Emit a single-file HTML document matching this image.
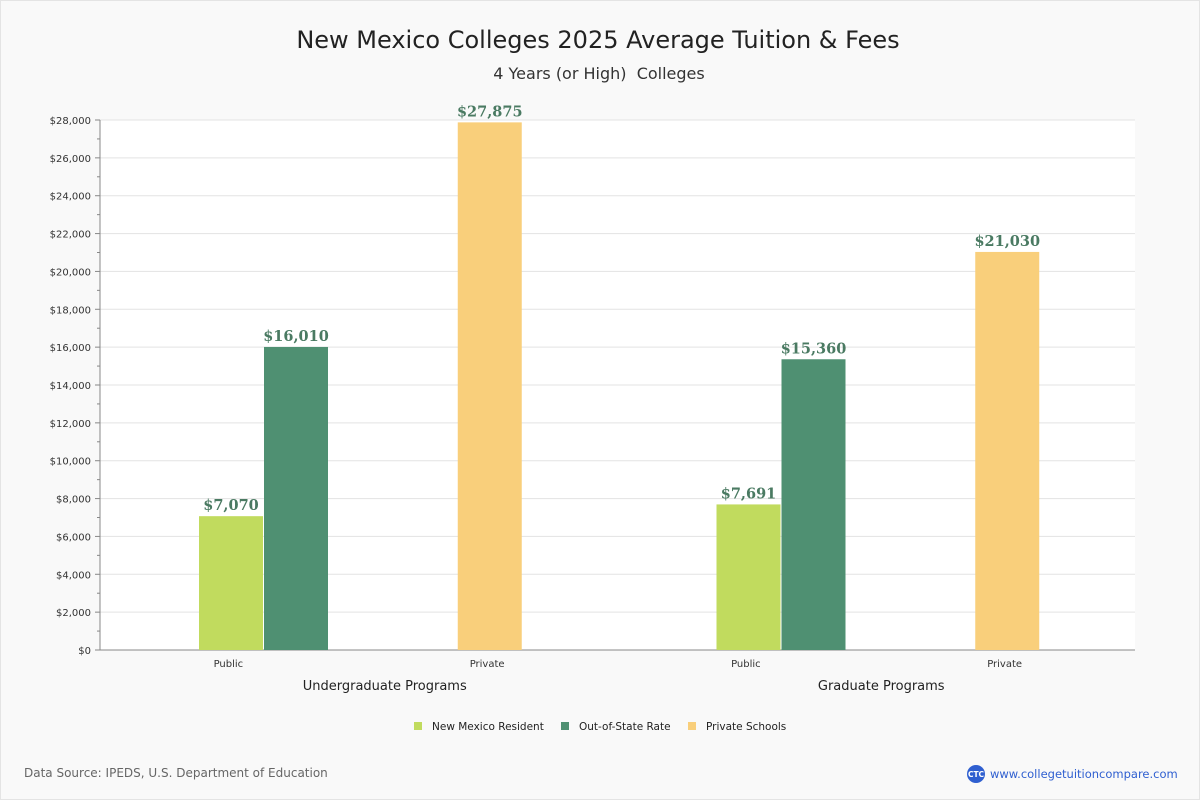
<!DOCTYPE html>
<html><head><meta charset="utf-8"><style>
html,body{margin:0;padding:0;background:#f9f9f9;}
body{width:1200px;height:800px;overflow:hidden;font-family:"DejaVu Sans","Liberation Sans",sans-serif;}
</style></head><body>
<svg id="chart" width="1200" height="800" xmlns="http://www.w3.org/2000/svg" style="display:block">
<rect x="0.5" y="0.5" width="1199" height="799" fill="#f9f9f9" stroke="#e4e4e4"/>
<text x="598" y="48" text-anchor="middle" font-size="24" fill="#222">New Mexico Colleges 2025 Average Tuition &amp; Fees</text>
<text x="599" y="79" text-anchor="middle" font-size="16" fill="#333" style="white-space:pre">4 Years (or High)&#160; Colleges</text>
<rect x="100" y="120" width="1035" height="530" fill="#fff"/>
<g id="grid"></g><g id="bars"></g><g id="labels"></g>
<g font-size="10.5" fill="#222">
<rect x="414" y="722" width="8" height="8" fill="#c1db5e"/>
<text x="432" y="730">New Mexico Resident</text>
<rect x="561" y="722" width="8" height="8" fill="#4f9072"/>
<text x="579" y="730">Out-of-State Rate</text>
<rect x="688" y="722" width="8" height="8" fill="#f9cf7b"/>
<text x="706" y="730">Private Schools</text>
</g>
<text x="24" y="777" font-size="12" fill="#666">Data Source: IPEDS, U.S. Department of Education</text>
<circle cx="976" cy="774" r="9" fill="#2f5fd0"/>
<text x="976" y="777" text-anchor="middle" font-size="7.5" fill="#fff" font-weight="bold">CTC</text>
<text x="990" y="778" font-size="11.5" fill="#2f5fd0">www.collegetuitioncompare.com</text>
</svg>
<script>
const yTicks=[0,2000,4000,6000,8000,10000,12000,14000,16000,18000,20000,22000,24000,26000,28000];
const categories=["Public","Private","Public","Private"];
const groups=["Undergraduate Programs","Graduate Programs"];
const residentValues=[7070,null,7691,null];
const outStateValues=[16010,null,15360,null];
const privateValues=[null,27875,null,21030];
const NS="http://www.w3.org/2000/svg";
const X0=100,W=1035,Y0=650,H=530,YMAX=28000;
const y=v=>Y0-v/YMAX*H;
const catW=W/categories.length;
const catX=i=>X0+i*catW;
const groupShift=[26,5];
function mk(tag,attrs,parent,text){const e=document.createElementNS(NS,tag);for(const k in attrs)e.setAttribute(k,attrs[k]);if(text!=null)e.textContent=text;parent.appendChild(e);return e;}
const grid=document.getElementById('grid'),bars=document.getElementById('bars'),labels=document.getElementById('labels');
yTicks.forEach((t,i)=>{
  if(t>0){const g=mk('line',{x1:X0,x2:X0+W,y1:y(t),y2:y(t),stroke:'#e3e3e3'},grid);
  
  }
  const tk=mk('line',{x1:X0-5,x2:X0,y1:y(t),y2:y(t),stroke:'#888'},grid);
  
  
  if(i<yTicks.length-1){const m=(t+yTicks[i+1])/2;const mt=mk('line',{x1:X0-3,x2:X0,y1:y(m),y2:y(m),stroke:'#888'},grid);
  
  }
  const tl=mk('text',{x:X0-9,y:y(t)+4,'text-anchor':'end','font-size':10,fill:'#333'},grid,'$'+t.toLocaleString('en-US'));
  
  
});
const ax=mk('line',{x1:X0,x2:X0,y1:Y0-H,y2:Y0,stroke:'#888'},grid);


const bx=mk('line',{x1:X0,x2:X0+W,y1:Y0,y2:Y0,stroke:'#888'},grid);


function bar(v,x,color,name){
  if(v==null)return;
  const r=mk('rect',{x:x,y:y(v),width:64,height:Y0-y(v),fill:color},bars);
  
  
  const l=mk('text',{x:x+32,y:y(v)-6,'text-anchor':'middle','font-size':14.5,'font-weight':'bold',fill:'#4a7a62','font-family':'DejaVu Serif, Liberation Serif, serif'},labels,'$'+v.toLocaleString('en-US'));
  
  
}
categories.forEach((c,i)=>{
  const cx=catX(i);
  bar(residentValues[i],cx+99,'#c1db5e','bar-resident-'+i);
  bar(outStateValues[i],cx+164,'#4f9072','bar-out-of-state-'+i);
  bar(privateValues[i],cx+99,'#f9cf7b','bar-private-'+i);
  const t=mk('text',{x:cx+catW/2-1,y:667,'text-anchor':'middle','font-size':10,fill:'#333'},grid,c);
  
  
});
groups.forEach((g,i)=>{
  const t=mk('text',{x:X0+(i+0.5)*2*catW+groupShift[i],y:690,'text-anchor':'middle','font-size':13,fill:'#222'},grid,g);
  
  
});
</script>
</body></html>
